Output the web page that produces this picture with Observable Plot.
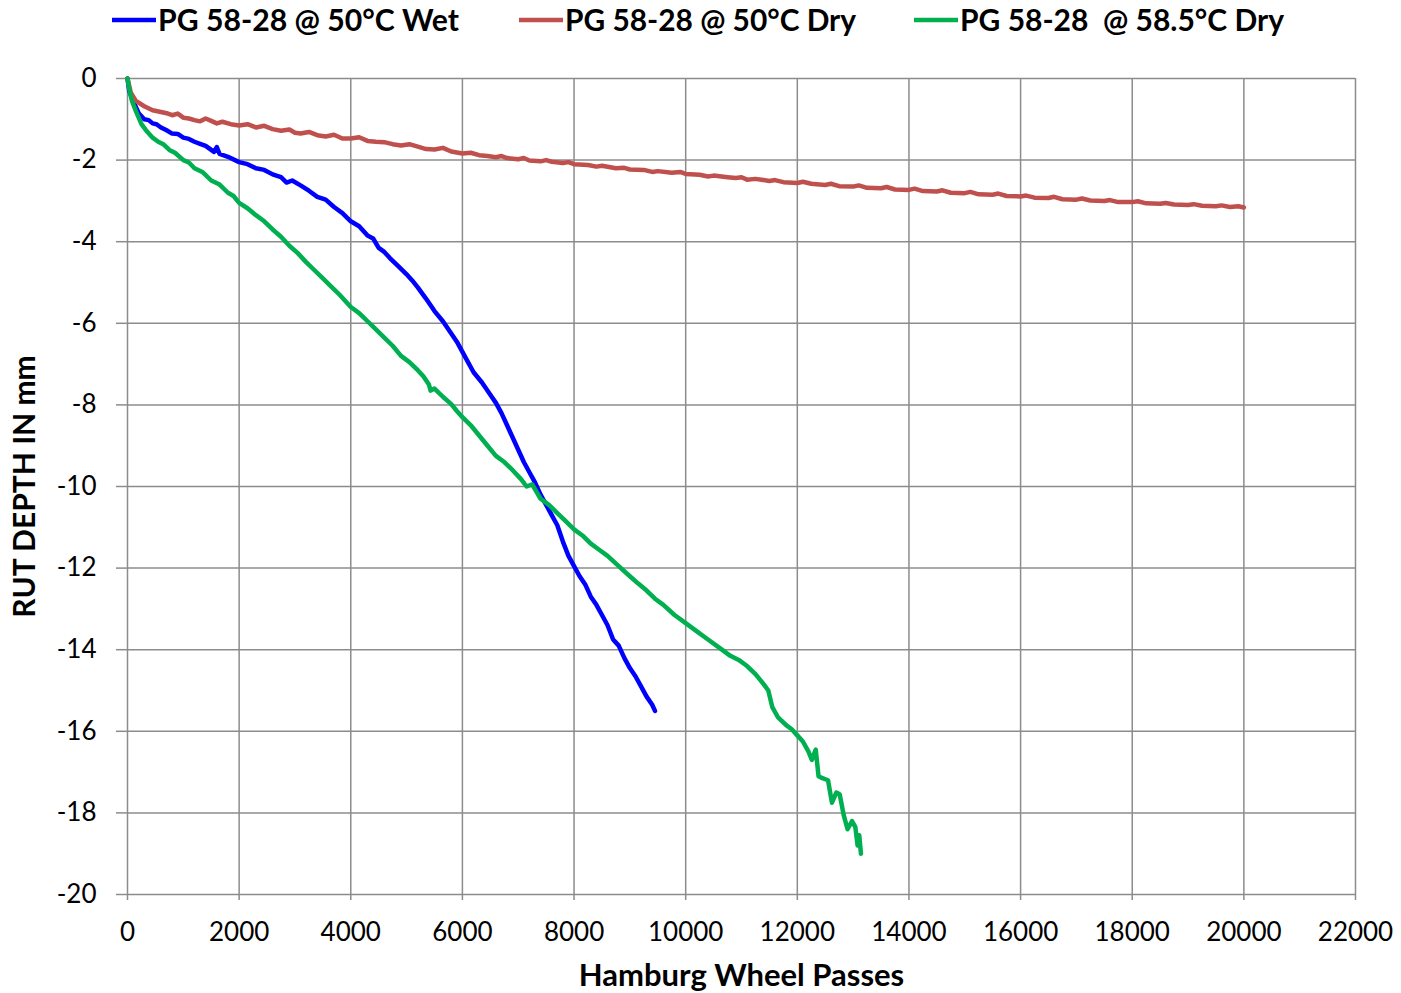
<!DOCTYPE html>
<html>
<head>
<meta charset="utf-8">
<script src="https://cdn.jsdelivr.net/npm/d3@7"></script>
<script src="https://cdn.jsdelivr.net/npm/@observablehq/plot@0.6"></script>
<style>
  body { margin: 0; background: #fff; }
  #wrap { position: relative; width: 1401px; height: 993px; }
  #legend { position: absolute; left: 0; top: 0; }
  #chart { position: absolute; left: 0; top: 0; }
</style>
</head>
<body>
<div id="wrap"><div id="chart"></div><svg id="legend" width="1401" height="60"></svg></div>
<script>
const seriesNames = ["PG 58-28 @ 50°C Wet", "PG 58-28 @ 50°C Dry", "PG 58-28  @ 58.5°C Dry"];
const seriesColors = ["#0000FF", "#C0504D", "#00B050"];
const xTicks = [0, 2000, 4000, 6000, 8000, 10000, 12000, 14000, 16000, 18000, 20000, 22000];
const yTicks = [0, -2, -4, -6, -8, -10, -12, -14, -16, -18, -20];

// [wheel passes, rut depth mm]
const wet50 = [
  [0,0],[30,-0.3],[100,-0.55],[200,-0.85],[300,-1.0],[380,-1.02],[450,-1.1],[520,-1.12],[600,-1.2],[700,-1.27],[800,-1.35],[900,-1.36],
  [1000,-1.45],[1100,-1.48],[1200,-1.55],[1300,-1.6],[1400,-1.65],[1500,-1.75],[1550,-1.8],[1600,-1.68],[1650,-1.85],
  [1800,-1.92],[2000,-2.05],[2150,-2.1],[2300,-2.2],[2450,-2.24],[2600,-2.35],[2750,-2.42],[2850,-2.55],[2950,-2.5],
  [3100,-2.62],[3250,-2.75],[3400,-2.9],[3550,-2.97],[3700,-3.15],[3850,-3.3],[4000,-3.5],[4150,-3.62],[4300,-3.85],
  [4400,-3.92],[4500,-4.15],[4600,-4.25],[4700,-4.4],[4850,-4.6],[5000,-4.8],[5100,-4.95],[5200,-5.12],[5350,-5.4],
  [5500,-5.7],[5650,-5.95],[5800,-6.25],[5900,-6.45],[6000,-6.7],[6100,-6.95],[6200,-7.2],[6350,-7.45],[6500,-7.75],
  [6600,-7.95],[6700,-8.2],[6800,-8.5],[6900,-8.8],[7000,-9.1],[7100,-9.4],[7200,-9.65],[7300,-9.9],[7400,-10.2],
  [7500,-10.45],[7600,-10.7],[7700,-10.95],[7800,-11.35],[7900,-11.7],[8000,-11.95],[8100,-12.2],[8200,-12.4],
  [8300,-12.7],[8400,-12.9],[8500,-13.15],[8600,-13.4],[8700,-13.75],[8800,-13.9],[8900,-14.2],[9000,-14.45],
  [9100,-14.65],[9200,-14.9],[9300,-15.15],[9400,-15.35],[9450,-15.5]
];
const dry50 = [
  [0,0],[60,-0.35],[150,-0.55],[300,-0.68],[450,-0.78],[600,-0.82],[700,-0.85],[800,-0.9],[900,-0.86],[1000,-0.96],
  [1100,-0.98],[1200,-1.02],[1300,-1.05],[1400,-0.98],[1500,-1.04],[1600,-1.1],[1700,-1.06],[1850,-1.12],[2000,-1.15],
  [2150,-1.12],[2300,-1.2],[2450,-1.16],[2600,-1.24],[2750,-1.28],[2900,-1.25],[3000,-1.33],[3100,-1.35],[3250,-1.31],
  [3400,-1.39],[3550,-1.42],[3700,-1.38],[3850,-1.47],[4000,-1.47],[4150,-1.44],[4300,-1.53],[4450,-1.55],[4600,-1.56],
  [4750,-1.61],[4900,-1.64],[5050,-1.61],[5200,-1.67],[5350,-1.73],[5500,-1.74],[5650,-1.7],[5800,-1.79],[6000,-1.84],
  [6150,-1.82],[6300,-1.88],[6450,-1.9],[6600,-1.93],[6700,-1.9],[6800,-1.95],[7000,-1.98],[7100,-1.95],[7200,-2.01],
  [7400,-2.03],[7500,-2.0],[7600,-2.04],[7800,-2.07],[7900,-2.05],[8000,-2.1],[8250,-2.12],[8400,-2.16],[8500,-2.14],
  [8750,-2.2],[8900,-2.19],[9000,-2.23],[9250,-2.24],[9400,-2.29],[9500,-2.27],[9750,-2.31],[9900,-2.29],[10000,-2.34],
  [10250,-2.36],[10400,-2.4],[10500,-2.38],[10750,-2.42],[10900,-2.44],[11000,-2.42],[11100,-2.48],[11250,-2.46],
  [11500,-2.51],[11600,-2.49],[11750,-2.54],[12000,-2.56],[12100,-2.53],[12250,-2.58],[12500,-2.61],[12600,-2.58],
  [12750,-2.64],[13000,-2.65],[13100,-2.62],[13250,-2.68],[13500,-2.69],[13600,-2.66],[13750,-2.72],[14000,-2.73],
  [14100,-2.7],[14250,-2.76],[14500,-2.77],[14600,-2.74],[14750,-2.8],[15000,-2.81],[15100,-2.78],[15250,-2.84],
  [15500,-2.85],[15600,-2.82],[15750,-2.88],[16000,-2.89],[16100,-2.87],[16250,-2.92],[16500,-2.93],[16600,-2.9],
  [16750,-2.96],[17000,-2.97],[17100,-2.94],[17250,-2.99],[17500,-3.0],[17600,-2.98],[17750,-3.03],[18000,-3.03],
  [18100,-3.01],[18250,-3.06],[18500,-3.07],[18600,-3.05],[18750,-3.09],[19000,-3.1],[19100,-3.08],[19250,-3.12],
  [19500,-3.13],[19600,-3.11],[19750,-3.15],[19900,-3.13],[20000,-3.16]
];
const dry585 = [
  [0,0],[30,-0.25],[80,-0.55],[150,-0.8],[250,-1.12],[350,-1.3],[450,-1.45],[550,-1.55],[650,-1.62],[750,-1.75],
  [850,-1.82],[1000,-2.0],[1100,-2.06],[1200,-2.2],[1350,-2.3],[1500,-2.5],[1650,-2.6],[1800,-2.8],[1900,-2.88],
  [2000,-3.05],[2150,-3.18],[2300,-3.35],[2450,-3.5],[2600,-3.7],[2750,-3.88],[2900,-4.1],[3050,-4.28],[3200,-4.5],
  [3350,-4.7],[3500,-4.9],[3650,-5.1],[3800,-5.3],[4000,-5.6],[4150,-5.75],[4300,-5.95],[4450,-6.15],[4600,-6.35],
  [4750,-6.55],[4900,-6.8],[5050,-6.95],[5200,-7.15],[5300,-7.3],[5400,-7.5],[5430,-7.65],[5500,-7.6],[5650,-7.8],
  [5800,-7.98],[5900,-8.15],[6000,-8.3],[6150,-8.5],[6300,-8.75],[6450,-9.0],[6600,-9.25],[6750,-9.4],[6900,-9.6],
  [7050,-9.82],[7150,-10.0],[7250,-9.95],[7400,-10.3],[7550,-10.45],[7700,-10.65],[7850,-10.85],[8000,-11.05],
  [8150,-11.2],[8300,-11.4],[8450,-11.55],[8600,-11.7],[8800,-11.95],[9000,-12.2],[9150,-12.38],[9300,-12.55],
  [9450,-12.75],[9600,-12.9],[9800,-13.15],[10000,-13.35],[10200,-13.55],[10400,-13.75],[10600,-13.95],[10800,-14.15],
  [10950,-14.25],[11100,-14.4],[11250,-14.6],[11400,-14.85],[11480,-15.0],[11550,-15.4],[11650,-15.65],[11800,-15.85],
  [11900,-15.95],[12000,-16.1],[12100,-16.25],[12200,-16.5],[12260,-16.7],[12330,-16.45],[12380,-17.1],[12450,-17.15],
  [12550,-17.2],[12620,-17.75],[12700,-17.5],[12760,-17.55],[12830,-18.05],[12900,-18.4],[12980,-18.2],[13040,-18.35],
  [13080,-18.8],[13110,-18.55],[13140,-19.0]
];

const rows = [
  ...wet50.map(([p, d]) => ({passes: p, depth: d, s: seriesNames[0]})),
  ...dry50.map(([p, d]) => ({passes: p, depth: d, s: seriesNames[1]})),
  ...dry585.map(([p, d]) => ({passes: p, depth: d, s: seriesNames[2]}))
];

const grid = "#8c8c8c";
const chart = Plot.plot({
  width: 1401,
  height: 993,
  marginLeft: 127,
  marginRight: 46,
  marginTop: 78,
  marginBottom: 99,
  style: {fontFamily: "Lato, sans-serif", fontSize: "26px", color: "#000", background: "#fff"},
  x: {domain: [0, 22000]},
  y: {domain: [-20, 0]},
  color: {domain: seriesNames, range: seriesColors},
  marks: [
    Plot.gridX(xTicks, {stroke: grid, strokeOpacity: 1, strokeWidth: 1.5}),
    Plot.gridY(yTicks, {stroke: grid, strokeOpacity: 1, strokeWidth: 1.5}),
    Plot.axisX(xTicks, {tickSize: 6, tickPadding: 22, stroke: grid, strokeWidth: 1.5, fill: "#000", label: null, tickFormat: d => String(d)}),
    Plot.axisY(yTicks, {tickSize: 11, tickPadding: 20, stroke: grid, strokeWidth: 1.5, fill: "#000", label: null, tickFormat: d => String(d)}),
    Plot.line(rows, {x: "passes", y: "depth", z: "s", stroke: "s", strokeWidth: 4.5, strokeLinejoin: "round", strokeLinecap: "round"}),
    Plot.text(["Hamburg Wheel Passes"], {frameAnchor: "bottom", dy: 91, text: d => d, fontWeight: "bold", fontSize: 31}),
    Plot.text(["RUT DEPTH IN mm"], {frameAnchor: "left", textAnchor: "middle", dx: -102, rotate: -90, text: d => d, fontWeight: "bold", fontSize: 30})
  ]
});
document.getElementById("chart").appendChild(chart);

// legend above the plot
const legendX = [112, 519, 914];
const legendTextWidth = [301, 291, 324];
const lg = d3.select("#legend");
seriesNames.forEach((name, i) => {
  lg.append("line").attr("x1", legendX[i]).attr("x2", legendX[i] + 44).attr("y1", 20).attr("y2", 20)
    .attr("stroke", seriesColors[i]).attr("stroke-width", 4.5);
  lg.append("text").attr("x", legendX[i] + 46).attr("y", 20).attr("dy", "0.35em")
    .attr("font-family", "Lato, sans-serif").attr("font-weight", "bold").attr("font-size", 30)
    .attr("textLength", legendTextWidth[i]).attr("lengthAdjust", "spacingAndGlyphs")
    .attr("xml:space", "preserve").style("white-space", "pre")
    .text(name);
});
</script>
</body>
</html>
